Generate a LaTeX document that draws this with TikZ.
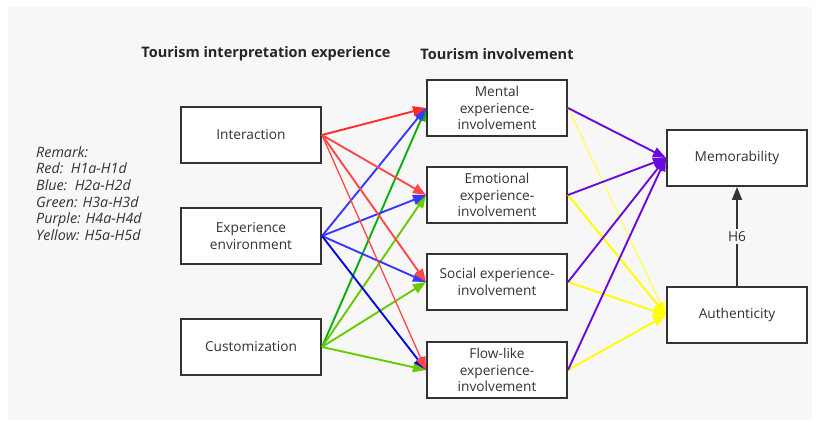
\documentclass[tikz,border=0pt]{standalone}
\usepackage{fontspec}
\setmainfont{Open Sans}
\usetikzlibrary{arrows.meta}
\definecolor{bg}{HTML}{F7F7F7}
\definecolor{boxline}{HTML}{333333}
\definecolor{cred}{HTML}{FF2A2A}
\definecolor{cred2}{HTML}{FF4848}
\definecolor{cblue}{HTML}{3838FF}
\definecolor{cblue2}{HTML}{0A0AD8}
\definecolor{cgreen}{HTML}{66CC00}
\definecolor{cgreen2}{HTML}{0AB00A}
\definecolor{cpurple}{HTML}{6A0ADC}
\definecolor{cyellow}{HTML}{FFFF00}
\definecolor{cyellow2}{HTML}{FFFF60}
\definecolor{darkarrow}{HTML}{333333}
\tikzset{
  varbox/.style={draw=boxline, line width=2pt, fill=white, minimum width=140pt, minimum height=56pt,
    inner sep=0pt, align=center, font=\fontsize{13.7}{16.7}\selectfont, text=black!80},
  hyp/.style={line width=1.9pt, -{Triangle[length=13pt,width=10pt]}},
  hypthin/.style={line width=1.3pt, -{Triangle[length=13pt,width=10pt]}},
  titletext/.style={font=\fontsize{14.5}{17}\selectfont\bfseries, text=black!85},
}
\begin{document}
\begin{tikzpicture}[x=1pt,y=-1pt]
\useasboundingbox (0,0) rectangle (822,422);
\fill[bg] (8,7) rectangle (812,420);
% titles
\node[titletext] (t1) at (266,54) {Tourism interpretation experience};
\node[titletext] (t2) at (497,54) {Tourism involvement};
% remark
\node[anchor=north west, align=left, inner sep=0pt, text=black!80,
  font=\fontsize{14.3}{16.7}\selectfont\itshape] (rem) at (36,146)
  {Remark:\\Red:\ \ H1a-H1d\\Blue:\ \ H2a-H2d\\Green: H3a-H3d\\Purple: H4a-H4d\\Yellow: H5a-H5d};
% left boxes
\node[varbox] (inter) at (251,135) {Interaction};
\node[varbox] (env) at (251,236) {Experience\\environment};
\node[varbox] (cust) at (251,347) {Customization};
% middle boxes
\node[varbox] (ment) at (497,108) {Mental\\experience-\\involvement};
\node[varbox] (emo) at (497,195) {Emotional\\experience-\\involvement};
\node[varbox] (soc) at (497,282) {Social experience-\\involvement};
\node[varbox] (flow) at (497,370) {Flow-like\\experience-\\involvement};
% right boxes
\node[varbox] (mem) at (737,158) {Memorability};
\node[varbox] (auth) at (737,315) {Authenticity};
% green
\draw[hyp, cgreen2] (cust.east) -- (ment.west);
\draw[hyp, cgreen] (cust.east) -- (emo.west);
\draw[hyp, cgreen] (cust.east) -- (soc.west);
\draw[hyp, cgreen] (cust.east) -- (flow.west);
% blue
\draw[hyp, cblue] (env.east) -- (ment.west);
\draw[hyp, cblue] (env.east) -- (emo.west);
\draw[hyp, cblue] (env.east) -- (soc.west);
\draw[hyp, cblue2] (env.east) -- (flow.west);
% red
\draw[hyp, cred] (inter.east) -- (ment.west);
\draw[hyp, cred2] (inter.east) -- (emo.west);
\draw[hyp, cred2] (inter.east) -- (soc.west);
\draw[hypthin, cred2] (inter.east) -- (flow.west);
% yellow
\draw[hypthin, cyellow2] (ment.east) -- (auth.west);
\draw[hyp, cyellow] (emo.east) -- (auth.west);
\draw[hyp, cyellow] (soc.east) -- (auth.west);
\draw[hyp, cyellow] (flow.east) -- (auth.west);
% purple
\draw[hyp, cpurple] (ment.east) -- (mem.west);
\draw[hyp, cpurple] (emo.east) -- (mem.west);
\draw[hyp, cpurple] (soc.east) -- (mem.west);
\draw[hyp, cpurple] (flow.east) -- (mem.west);
% H6
\draw[line width=1.8pt, darkarrow, -{Triangle[length=13pt,width=10pt]}] (auth.north) -- node[fill=bg, inner sep=2pt, text=black!80, font=\fontsize{13.7}{16}\selectfont] (h6) {H6} (mem.south);
\end{tikzpicture}
\end{document}
